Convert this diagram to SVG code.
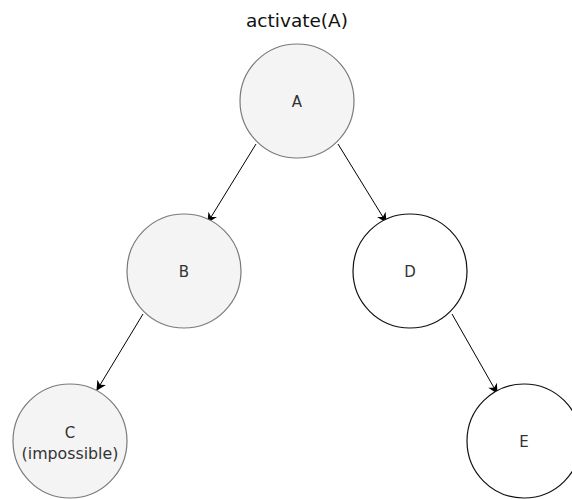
<svg xmlns="http://www.w3.org/2000/svg" width="572" height="499" viewBox="0 0 572 499">
<defs>
<style>
.g{fill:#f4f4f4;stroke:#7a7a7a;stroke-width:1.2}
.w{fill:#ffffff;stroke:#111111;stroke-width:1.2}
.t{font-family:"DejaVu Sans",Verdana,sans-serif;font-size:15px;fill:#333333;text-anchor:middle}
.e{stroke:#000000;stroke-width:1;fill:none;marker-end:url(#ah)}
</style>
<marker id="ah" viewBox="0 0 10 10" refX="9" refY="5" markerWidth="10" markerHeight="10" markerUnits="userSpaceOnUse" orient="auto">
<path d="M0,0 L10,5 L0,10 L3,5 Z" fill="#000000"/>
</marker>
</defs>
<rect width="572" height="499" fill="#ffffff"/>
<text x="297" y="27" style="font-family:'DejaVu Sans',Verdana,sans-serif;font-size:18.5px;fill:#111111;text-anchor:middle">activate(A)</text>
<g id="edges">
<line class="e" x1="256" y1="144" x2="208" y2="222"/>
<line class="e" x1="338" y1="144" x2="386" y2="222"/>
<line class="e" x1="143" y1="314" x2="97" y2="390"/>
<line class="e" x1="452" y1="314" x2="497" y2="393"/>
</g>
<g id="A"><circle class="g" cx="297" cy="101" r="57"/><text class="t" x="297" y="107">A</text></g>
<g id="B"><circle class="g" cx="184" cy="271" r="57"/><text class="t" x="184" y="277">B</text></g>
<g id="D"><circle class="w" cx="410" cy="271" r="57"/><text class="t" x="410" y="277">D</text></g>
<g id="C"><circle class="g" cx="70" cy="441" r="57"/><text class="t" x="70" y="438">C</text><text class="t" x="70" y="459" style="font-size:15.8px">(impossible)</text></g>
<g id="E"><circle class="w" cx="524" cy="441" r="57"/><text class="t" x="524" y="447">E</text></g>
</svg>
